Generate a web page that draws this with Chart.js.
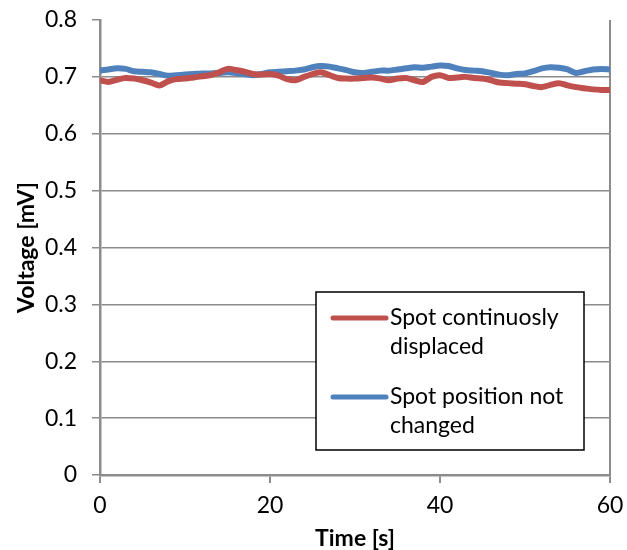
<!DOCTYPE html>
<html>
<head>
<meta charset="utf-8">
<script src="https://cdn.jsdelivr.net/npm/chart.js@4.4.0/dist/chart.umd.min.js"></script>
<style>
  html, body { margin: 0; padding: 0; background: #fff; }
  #wrap { width: 627px; height: 550px; }
</style>
</head>
<body>
<div id="wrap"><canvas id="voltageChart" width="627" height="550"></canvas></div>
<script>
// tiempo en segundos
const times = [];
for (let t = 0; t <= 60; t++) times.push(t);

const displaced = [0.694, 0.691, 0.695, 0.698, 0.697, 0.694, 0.690, 0.685, 0.692, 0.696,
    0.697, 0.699, 0.701, 0.703, 0.708, 0.714, 0.712, 0.709, 0.705, 0.704,
    0.705, 0.702, 0.696, 0.694, 0.700, 0.705, 0.708, 0.703, 0.698, 0.697,
    0.697, 0.698, 0.699, 0.697, 0.694, 0.697, 0.698, 0.694, 0.691, 0.700,
    0.703, 0.698, 0.699, 0.700, 0.698, 0.697, 0.694, 0.690, 0.689, 0.688,
    0.687, 0.684, 0.682, 0.686, 0.689, 0.685, 0.682, 0.680, 0.678, 0.677, 0.677];

const notChanged = [0.711, 0.713, 0.715, 0.714, 0.710, 0.709, 0.708, 0.705, 0.702, 0.703,
    0.704, 0.705, 0.706, 0.706, 0.707, 0.708, 0.707, 0.705, 0.703, 0.705,
    0.708, 0.709, 0.710, 0.711, 0.713, 0.717, 0.719, 0.718, 0.715, 0.712,
    0.708, 0.707, 0.709, 0.711, 0.711, 0.713, 0.715, 0.717, 0.716, 0.718,
    0.720, 0.719, 0.715, 0.712, 0.711, 0.710, 0.707, 0.704, 0.703, 0.705,
    0.706, 0.710, 0.715, 0.717, 0.716, 0.713, 0.707, 0.710, 0.713, 0.714, 0.713];

const seriesLabels = [["Spot continuosly", "displaced"], ["Spot position not", "changed"]];
const seriesColors = ["#C0504D", "#4F81BD"];

const axisGray = "#8c8c8c";

const toPoints = (vals) => vals.map((v, i) => ({ x: times[i], y: v }));

// leyenda dentro del grafico, con borde negro
const boxLegend = {
    id: "boxLegend",
    afterDraw(chart) {
        const c = chart.ctx;
        const left = 316, top = 292, right = 584, bottom = 450;
        c.save();
        c.fillStyle = "#fff";
        c.fillRect(left, top, right - left, bottom - top);
        c.strokeStyle = "#000";
        c.lineWidth = 1.5;
        c.strokeRect(left, top, right - left, bottom - top);
        c.font = "23px Lato";
        c.textBaseline = "middle";
        c.fillStyle = "#000";
        chart.data.datasets.forEach((ds, i) => {
            const y = 318 + i * 79;
            c.strokeStyle = ds.borderColor;
            c.lineWidth = 5;
            c.lineCap = "round";
            c.beginPath();
            c.moveTo(333, y);
            c.lineTo(386, y);
            c.stroke();
            ds.label.forEach((line, j) => {
                c.fillText(line, 390, y + j * 29);
            });
        });
        c.restore();
    }
};

new Chart(document.getElementById("voltageChart").getContext("2d"), {
    type: "line",
    data: {
        datasets: [
            {
                label: seriesLabels[0],
                data: toPoints(displaced),
                borderColor: seriesColors[0],
                borderWidth: 6,
                pointRadius: 0,
                tension: 0.3
            },
            {
                label: seriesLabels[1],
                data: toPoints(notChanged),
                borderColor: seriesColors[1],
                borderWidth: 6,
                pointRadius: 0,
                tension: 0.3
            }
        ]
    },
    options: {
        responsive: false,
        animation: false,
        layout: { padding: 0 },
        plugins: {
            legend: { display: false },
            tooltip: { enabled: false }
        },
        scales: {
            x: {
                type: "linear",
                min: 0,
                max: 60,
                afterFit: (s) => {
                    s.height = 75;
                    s.paddingLeft = 0;
                    s.paddingRight = 17;
                },
                ticks: { stepSize: 20, color: "#000", font: { family: "Lato", size: 23 }, padding: 9 },
                grid: {
                    color: (ctx) => (ctx.tick && ctx.tick.value === 60 ? axisGray : "rgba(0,0,0,0)"),
                    tickColor: axisGray,
                    tickLength: 8,
                    lineWidth: 2
                },
                border: { color: axisGray, width: 2.5 },
                title: { display: true, text: "Time [s]", color: "#000", font: { family: "Lato", size: 23, weight: "bold", lineHeight: 1 }, padding: { top: 7, bottom: 0 } }
            },
            y: {
                min: 0,
                max: 0.8,
                afterFit: (s) => {
                    s.width = 100;
                    s.paddingTop = 20;
                    s.paddingBottom = 0;
                },
                ticks: { stepSize: 0.1, color: "#000", font: { family: "Lato", size: 23 }, padding: 15 },
                grid: {
                    color: (ctx) => (ctx.tick && ctx.tick.value > 0.75 ? "rgba(0,0,0,0)" : axisGray),
                    tickColor: axisGray,
                    tickLength: 8,
                    lineWidth: 1.5
                },
                border: { color: axisGray, width: 2.5 },
                title: { display: true, text: "Voltage [mV]", color: "#000", font: { family: "Lato", size: 23, weight: "bold", lineHeight: 1 }, padding: { top: 15, bottom: 0 } }
            }
        }
    },
    plugins: [boxLegend]
});
</script>
</body>
</html>
